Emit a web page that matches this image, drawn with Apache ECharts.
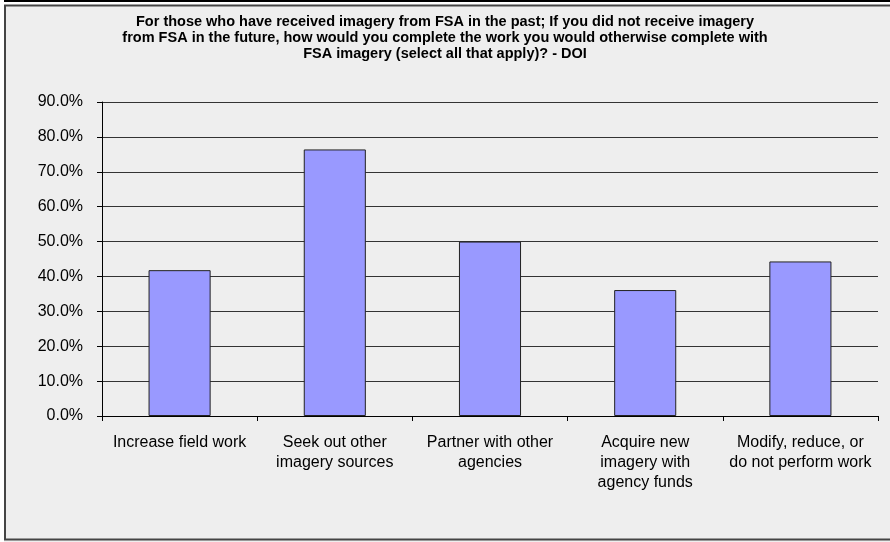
<!DOCTYPE html>
<html>
<head>
<meta charset="utf-8">
<script src="https://cdn.jsdelivr.net/npm/echarts@6/dist/echarts.min.js"></script>
<style>html,body{margin:0;padding:0;background:#fff;}#c{width:890px;height:542px;}</style>
</head>
<body>
<div id="c"></div>
<script>
const titleText = "For those who have received imagery from FSA in the past; If you did not receive imagery\nfrom FSA in the future, how would you complete the work you would otherwise complete with\nFSA imagery (select all that apply)? - DOI";
const categories = [
  "Increase field work",
  "Seek out other\nimagery sources",
  "Partner with other\nagencies",
  "Acquire new\nimagery with\nagency funds",
  "Modify, reduce, or\ndo not perform work"
];
const values = [41.8, 76.4, 50.0, 36.1, 44.3];
const yMin = 0, yMax = 90, yStep = 10;

const chart = echarts.init(document.getElementById('c'));
chart.setOption({
  backgroundColor: '#EEEEEE',
  animation: false,
  title: {
    text: titleText,
    left: 'center',
    top: 9,
    textStyle: {
      fontFamily: 'Liberation Sans, Arial, sans-serif',
      fontWeight: 'bold',
      fontSize: 14.5,
      lineHeight: 16,
      color: '#000'
    }
  },
  graphic: [
    { type: 'rect', shape: { x: 0, y: 0, width: 890, height: 2 }, style: { fill: '#000' }, silent: true },
    { type: 'rect', shape: { x: 0, y: 2, width: 890, height: 3 }, style: { fill: '#fff' }, silent: true },
    { type: 'rect', shape: { x: 0, y: 0, width: 4, height: 542 }, style: { fill: '#fff' }, silent: true },
    { type: 'rect', shape: { x: 5, y: 5.5, width: 900, height: 534 }, style: { fill: 'none', stroke: '#444', lineWidth: 2 }, silent: true }
  ],
  grid: { left: 102, right: 12, top: 102, bottom: 126, containLabel: false },
  xAxis: {
    type: 'category',
    data: categories,
    axisLine: { lineStyle: { color: '#000', width: 1 } },
    axisTick: { show: true, length: 5, lineStyle: { color: '#000' } },
    axisLabel: {
      interval: 0,
      margin: 17,
      fontFamily: 'Liberation Sans, Arial, sans-serif',
      fontSize: 16,
      lineHeight: 20,
      color: '#000'
    }
  },
  yAxis: {
    type: 'value',
    min: yMin, max: yMax, interval: yStep,
    axisLine: { show: true, lineStyle: { color: '#000', width: 1 } },
    axisTick: { show: true, length: 5, lineStyle: { color: '#000' } },
    splitLine: { show: true, lineStyle: { color: '#333', width: 1 } },
    axisLabel: {
      margin: 19,
      fontFamily: 'Liberation Sans, Arial, sans-serif',
      fontSize: 16,
      color: '#000',
      formatter: v => v.toFixed(1) + '%'
    }
  },
  series: [{
    type: 'bar',
    data: values,
    barWidth: '40%',
    itemStyle: { color: '#9999FF', borderColor: '#222', borderWidth: 1 }
  }]
});
</script>
</body>
</html>
